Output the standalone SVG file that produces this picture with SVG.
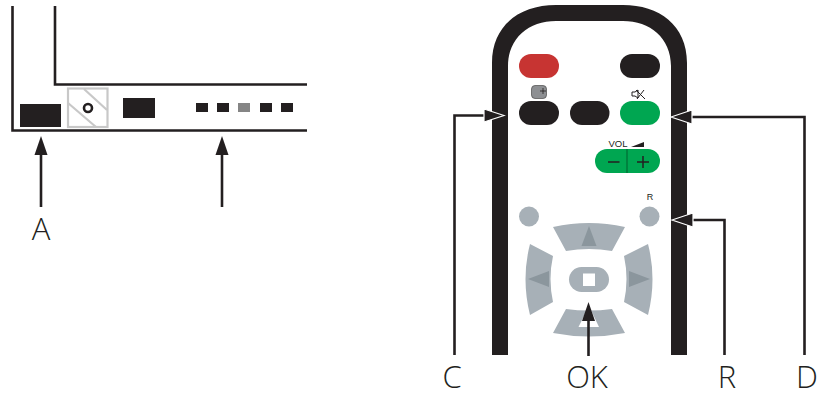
<svg xmlns="http://www.w3.org/2000/svg" width="826" height="394" viewBox="0 0 826 394">
<style>
.k{fill:#231f20}.g{fill:#00a651}.p{fill:#a7b0b7}.t{fill:#8b969d}
.ln{fill:none;stroke:#231f20;stroke-width:2.6}
.cn{fill:none;stroke:#231f20;stroke-width:2.6}
.hd{fill:#231f20;stroke:#fff;stroke-width:1.2}
.lb{font-family:"Open Sans","Noto Sans",sans-serif;font-weight:300;font-size:31px;fill:#231f20;text-anchor:middle}
.sm{font-family:"Liberation Sans",sans-serif;font-size:9.5px;fill:#231f20;text-anchor:middle}
</style>
<rect width="826" height="394" fill="#fff"/>
<g id="tv-panel">
<path class="ln" d="M12.5 6V130.5H307"/>
<path class="ln" d="M55 6V84.5H307"/>
<rect class="k" x="20" y="104" width="41" height="23"/>
<g id="tv-switch" fill="none">
<rect x="68" y="88.500" width="39.500" height="38.500" stroke="#c8c8c8" stroke-width="2.200"/>
<path d="M84 89L107 110M68 103L96 127" stroke="#c8c8c8" stroke-width="2.200"/>
<circle cx="88" cy="108" r="4" stroke="#231f20" stroke-width="2.600" fill="#fff"/>
</g>
<rect class="k" x="123" y="98" width="32" height="20"/>
<rect class="k" x="196" y="103" width="12" height="9"/>
<rect class="k" x="217" y="103" width="12" height="9"/>
<rect x="238" y="103" width="12" height="9" fill="#858585"/>
<rect class="k" x="260" y="103" width="12" height="9"/>
<rect class="k" x="281" y="103" width="12" height="9"/>
</g>
<g id="remote">
<path class="k" d="M492 355V63C492 25 520 5 556 5H623C659 5 687 25 687 63V355H671V66C671 38 650 21 623 21H556C529 21 508 38 508 66V355Z"/>
<g id="btn-red"><rect x="519" y="54" width="40" height="24" rx="12" fill="#c73432"/></g>
<g id="btn-top-right"><rect class="k" x="620" y="54" width="40" height="24" rx="12"/></g>
<g id="btn-c"><rect class="k" x="519" y="101" width="40" height="24" rx="12"/>
<rect x="531.500" y="85.500" width="15" height="13" rx="3.500" fill="#8d8f92" stroke="#4a4a4a" stroke-width=".7"/>
<path d="M543 88V94M540 91H546" stroke="#231f20" stroke-width=".8" fill="none"/></g>
<g id="btn-mid"><rect class="k" x="570" y="101" width="39.500" height="24" rx="12"/></g>
<g id="btn-mute"><rect class="g" x="620" y="101" width="40" height="24" rx="12"/>
<path d="M632 92H635L638 90V98L635 96H632ZM636 90L645 99M644 90L637 99" fill="none" stroke="#231f20" stroke-width="1"/></g>
<g id="btn-vol"><rect class="g" x="595" y="149" width="65" height="24" rx="12"/>
<path d="M627 149V173" stroke="#00763a" stroke-width="1.500"/>
<path d="M608 162H619.500M637 162H649M643 156V168" stroke="#231f20" stroke-width="1.500" fill="none"/>
<text class="sm" x="618" y="147" font-size="10">VOL</text>
<path class="k" d="M631 147L644 142V147Z"/></g>
<g id="btn-left-dot"><circle class="p" cx="529" cy="216.500" r="10"/></g>
<g id="btn-r"><circle class="p" cx="649.500" cy="216.500" r="10"/><text class="sm" x="650" y="200" style="font-size:9px">R</text></g>
<g id="dpad-up"><path class="p" d="M553 227Q589 219 625 227L612 251Q589 247 566 251Z"/><path class="t" d="M589 226L596.500 246H581.500Z"/></g>
<g id="dpad-left"><path class="p" d="M530 244L553 256Q548 279 553 302L530 315Q521 279 530 244Z"/><path class="t" d="M528 279L549 271V287Z"/></g>
<g id="dpad-right"><path class="p" d="M648 244L624 256Q629 279 624 302L648 315Q657 279 648 244Z"/><path class="t" d="M650 279L629 271V287Z"/></g>
<g id="dpad-ok"><rect class="p" x="569" y="267" width="40" height="25" rx="12.500"/><rect x="583" y="273.500" width="12" height="12.500" fill="#fff"/></g>
<g id="dpad-down"><path class="p" d="M553 333L566 309Q589 312 612 309L625 333Q589 340 553 333Z"/><path d="M589 306L599 327H578.500Z" fill="#fff"/></g>
</g>
<g id="connectors">
<path class="cn" d="M41 207V152"/>
<path d="M41 136L47.500 155H34.500Z" fill="#231f20"/>
<path class="cn" d="M222 207V152"/>
<path d="M222 136L228.500 155H215.500Z" fill="#231f20"/>
<path class="cn" d="M454.500 355V115.500H487"/>
<path class="hd" d="M504 115.500L484 109V122Z"/>
<path class="cn" d="M804.500 355V117H690"/>
<path class="hd" d="M671 117L692 110V124Z"/>
<path class="cn" d="M724.500 355V220H690"/>
<path class="hd" d="M672 220L693 213V227Z"/>
<path class="cn" d="M588.500 356V318"/>
<path d="M588.500 302L595 321H582Z" fill="#231f20"/>
</g>
<g id="labels">
<text class="lb" x="41" y="240">A</text>
<text class="lb" x="452" y="388">C</text>
<text class="lb" x="587" y="388">OK</text>
<text class="lb" x="727" y="388">R</text>
<text class="lb" x="807" y="388">D</text>
</g>
</svg>
